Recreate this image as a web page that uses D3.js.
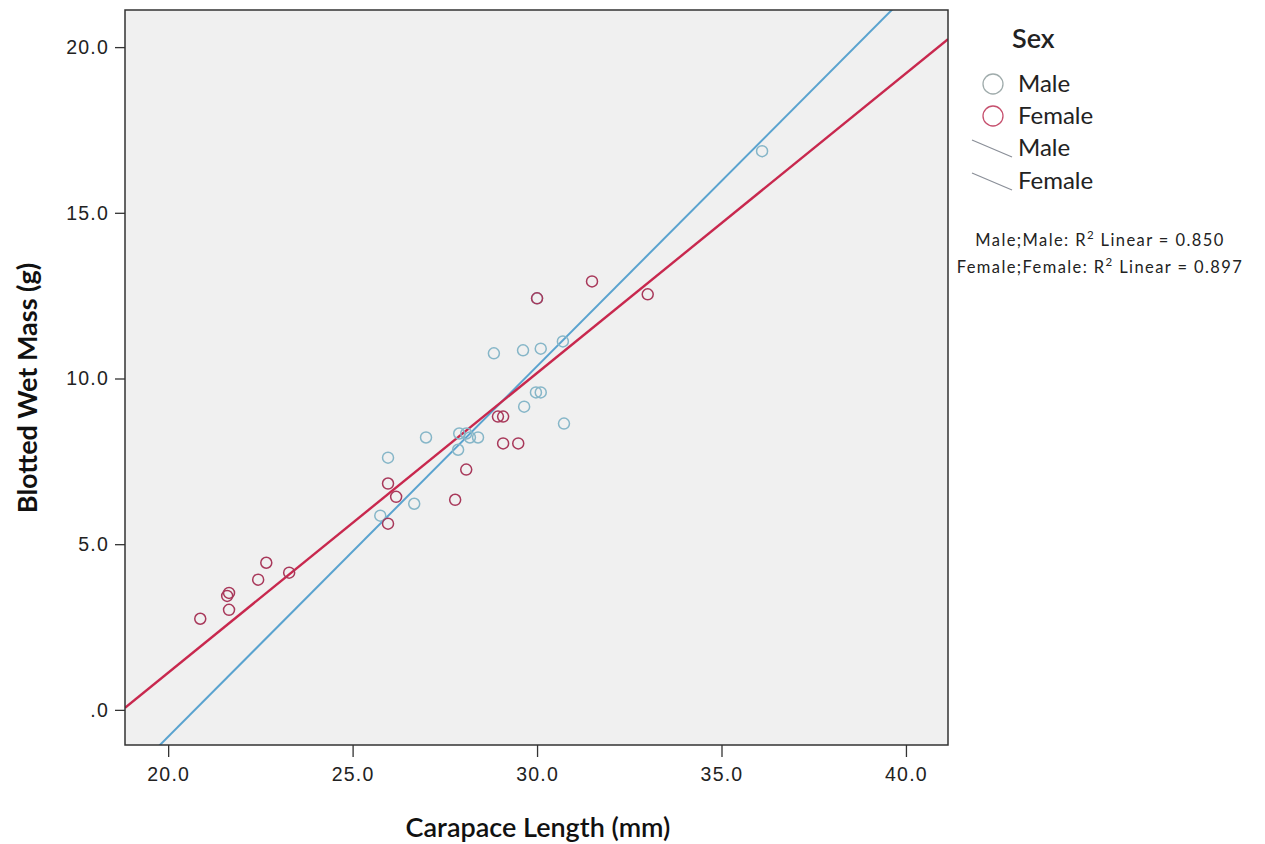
<!DOCTYPE html>
<html>
<head>
<meta charset="utf-8">
<script src="https://cdn.jsdelivr.net/npm/d3@7"></script>
<style>
  html, body { margin: 0; padding: 0; background: #ffffff; }
  svg { display: block; font-family: Lato, "Open Sans", sans-serif; }
</style>
</head>
<body>
<svg id="chart" width="1265" height="844"></svg>
<script>
// Carapace length (mm) and blotted wet mass (g) by sex
const maleLength = [25.96, 25.75, 26.67, 26.99, 27.86, 27.89, 28.08, 28.18, 28.40, 29.65, 29.97, 30.10, 28.83, 29.62, 30.10, 30.70, 30.73, 36.10, 30.00];
const maleMass   = [7.61, 5.86, 6.22, 8.22, 7.85, 8.34, 8.34, 8.22, 8.22, 9.15, 9.58, 9.58, 10.76, 10.85, 10.90, 11.12, 8.64, 16.86, 12.42];

const femaleLength = [20.87, 21.60, 21.65, 21.65, 22.44, 22.66, 23.28, 25.96, 25.96, 26.18, 27.78, 28.08, 28.94, 29.08, 29.08, 29.49, 30.00, 31.49, 33.00];
const femaleMass   = [2.75, 3.44, 3.53, 3.02, 3.93, 4.44, 4.14, 6.83, 5.62, 6.43, 6.34, 7.25, 8.85, 8.85, 8.04, 8.04, 12.42, 12.93, 12.54];

// Linear fit lines: [slope, intercept]
const maleFit = [1.118, -23.17];
const femaleFit = [0.9045, -16.97];

const xTicks = [20, 25, 30, 35, 40];
const yTicks = [0, 5, 10, 15, 20];
const legendLabels = ["Male", "Female"];
const r2Labels = ["Male;Male: R", "Female;Female: R"];
const r2Values = ["0.850", "0.897"];

const svg = d3.select("#chart");
const plot = { left: 125, top: 10, right: 948, bottom: 745 };

const x = d3.scaleLinear().domain([18.83, 41.14]).range([plot.left, plot.right]);
const y = d3.scaleLinear().domain([-1.06, 21.12]).range([plot.bottom, plot.top]);

const maleColor = "#86b6c8";
const femaleColor = "#a8385a";
const maleLine = "#5aa3cf";
const femaleLine = "#c8284e";

// plot background
svg.append("rect")
  .attr("x", plot.left).attr("y", plot.top)
  .attr("width", plot.right - plot.left).attr("height", plot.bottom - plot.top)
  .attr("fill", "#f0f0f0");

svg.append("clipPath").attr("id", "clip")
  .append("rect")
  .attr("x", plot.left).attr("y", plot.top)
  .attr("width", plot.right - plot.left).attr("height", plot.bottom - plot.top);

const g = svg.append("g").attr("clip-path", "url(#clip)");

// fit lines across the x range
const [x0, x1] = x.domain();
function fitLine(fit, color, width) {
  g.append("line")
    .attr("x1", x(x0)).attr("y1", y(fit[0] * x0 + fit[1]))
    .attr("x2", x(x1)).attr("y2", y(fit[0] * x1 + fit[1]))
    .attr("stroke", color).attr("stroke-width", width);
}
fitLine(maleFit, maleLine, 2);
fitLine(femaleFit, femaleLine, 2.4);

// points
function points(xs, ys, color) {
  g.append("g").selectAll("circle")
    .data(xs.map((v, i) => [v, ys[i]]))
    .join("circle")
    .attr("cx", d => x(d[0]))
    .attr("cy", d => y(d[1]))
    .attr("r", 5.5)
    .attr("fill", "none")
    .attr("stroke", color)
    .attr("stroke-width", 1.5);
}
points(maleLength, maleMass, maleColor);
points(femaleLength, femaleMass, femaleColor);

// frame
svg.append("rect")
  .attr("x", plot.left).attr("y", plot.top)
  .attr("width", plot.right - plot.left).attr("height", plot.bottom - plot.top)
  .attr("fill", "none").attr("stroke", "#333").attr("stroke-width", 1.5);

// axes
const xAxis = d3.axisBottom(x).tickValues(xTicks).tickFormat(d => d.toFixed(1)).tickSize(12).tickSizeOuter(0);
const yAxis = d3.axisLeft(y).tickValues(yTicks).tickFormat(d => d === 0 ? ".0" : d.toFixed(1)).tickSize(10).tickSizeOuter(0);

const gx = svg.append("g").attr("transform", `translate(0,${plot.bottom})`).call(xAxis);
gx.select(".domain").remove();
gx.selectAll("line").attr("stroke", "#333").attr("stroke-width", 1.3);
gx.selectAll("text").attr("font-size", 19.5).attr("letter-spacing", 1.2)
  .attr("fill", "#222").attr("y", 22).attr("dy", "0.71em");

const gy = svg.append("g").attr("transform", `translate(${plot.left},0)`).call(yAxis);
gy.select(".domain").remove();
gy.selectAll("line").attr("stroke", "#333").attr("stroke-width", 1.3);
gy.selectAll("text").attr("font-size", 19.5).attr("letter-spacing", 1.2)
  .attr("fill", "#222").attr("x", -16);

// axis titles
svg.append("text")
  .attr("x", 538).attr("y", 837)
  .attr("text-anchor", "middle")
  .attr("font-size", 27).attr("font-weight", 600).attr("fill", "#111")
  .text("Carapace Length (mm)");

svg.append("text")
  .attr("transform", `translate(37,388) rotate(-90)`)
  .attr("text-anchor", "middle")
  .attr("font-size", 27).attr("font-weight", 700).attr("fill", "#111")
  .text("Blotted Wet Mass (g)");

// legend
const lg = svg.append("g");
lg.append("text").attr("x", 1012).attr("y", 48)
  .attr("font-size", 27).attr("font-weight", 600).attr("fill", "#222").text("Sex");

const circleColors = ["#a0acac", "#c6506e"];
legendLabels.forEach((lab, i) => {
  const cy = 84 + i * 32;
  lg.append("circle").attr("cx", 993).attr("cy", cy).attr("r", 10)
    .attr("fill", "none").attr("stroke", circleColors[i]).attr("stroke-width", 1.3);
  lg.append("text").attr("x", 1018).attr("y", cy + 8)
    .attr("font-size", 24).attr("fill", "#222").text(lab);
});
legendLabels.forEach((lab, i) => {
  const cy = 148 + i * 33;
  lg.append("line").attr("x1", 972).attr("y1", cy - 8).attr("x2", 1012).attr("y2", cy + 9)
    .attr("stroke", "#8a8f98").attr("stroke-width", 1.2);
  lg.append("text").attr("x", 1018).attr("y", cy + 8)
    .attr("font-size", 24).attr("fill", "#222").text(lab);
});

r2Labels.forEach((lab, i) => {
  const t = lg.append("text").attr("x", 1100).attr("y", 246 + i * 27)
    .attr("text-anchor", "middle").attr("font-size", 16.5).attr("letter-spacing", 1.4).attr("fill", "#222");
  t.append("tspan").text(lab);
  t.append("tspan").attr("dy", -7).attr("font-size", 11.5).text("2");
  t.append("tspan").attr("dy", 7).text(" Linear = " + r2Values[i]);
});
</script>
</body>
</html>
